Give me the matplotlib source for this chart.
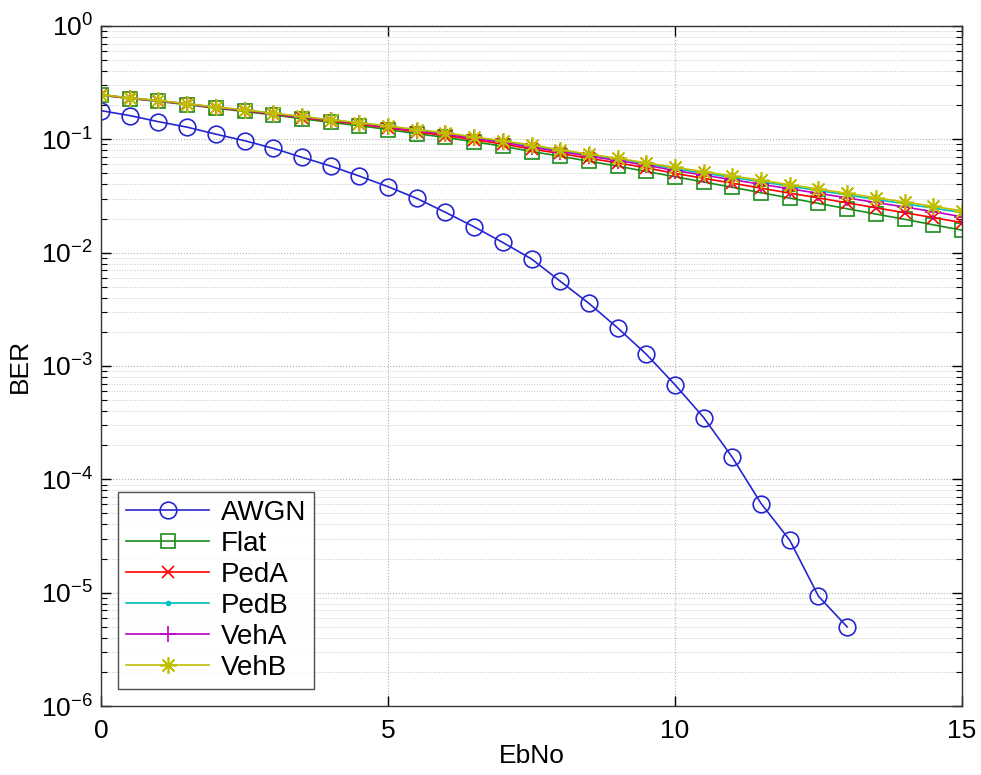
import numpy as np
import matplotlib
matplotlib.use('Agg')
import matplotlib.pyplot as plt
from matplotlib.ticker import LogLocator, NullFormatter

plt.rcParams['font.family'] = ['Liberation Sans', 'DejaVu Sans']
plt.rcParams['mathtext.fontset'] = 'custom'
plt.rcParams['mathtext.rm'] = 'Liberation Sans'
plt.rcParams['mathtext.it'] = 'Liberation Sans'

# Eb/No points (dB)
ebno = np.arange(0, 15.5, 0.5)

ber_awgn = [0.179, 0.162, 0.143, 0.128, 0.111, 0.0972, 0.0833, 0.0694, 0.0581, 0.0474,
            0.0382, 0.0301, 0.0227, 0.0169, 0.0123, 0.0088, 0.0056, 0.00357, 0.00217,
            0.00127, 0.000683, 0.000351, 0.000156, 6.12e-5, 2.9e-5, 9.3e-6, 4.99e-6]
ber_flat = [0.245, 0.229, 0.216, 0.202, 0.188, 0.176, 0.164, 0.152, 0.141, 0.132, 0.122,
            0.112, 0.104, 0.095, 0.087, 0.078, 0.071, 0.064, 0.058, 0.052, 0.0468,
            0.0420, 0.0377, 0.0338, 0.0303, 0.0272, 0.0244, 0.0219, 0.0197, 0.0176, 0.0158]
ber_peda = [0.246, 0.230, 0.218, 0.204, 0.190, 0.179, 0.167, 0.155, 0.145, 0.136, 0.126,
            0.116, 0.108, 0.099, 0.091, 0.082, 0.075, 0.068, 0.062, 0.056, 0.050,
            0.0453, 0.0410, 0.0371, 0.0335, 0.0304, 0.0275, 0.0249, 0.0225, 0.0204, 0.0184]
ber_pedb = [0.247, 0.231, 0.219, 0.205, 0.192, 0.181, 0.169, 0.158, 0.148, 0.139, 0.130,
            0.121, 0.113, 0.104, 0.096, 0.088, 0.080, 0.073, 0.067, 0.061, 0.055,
            0.0503, 0.0461, 0.0422, 0.0386, 0.0353, 0.0323, 0.0295, 0.0270, 0.0247, 0.0226]
ber_veha = [0.247, 0.231, 0.219, 0.205, 0.191, 0.180, 0.168, 0.157, 0.147, 0.138, 0.128,
            0.119, 0.111, 0.102, 0.094, 0.085, 0.078, 0.071, 0.065, 0.059, 0.053,
            0.0483, 0.0440, 0.0401, 0.0366, 0.0334, 0.0304, 0.0277, 0.0253, 0.0230, 0.0207]
ber_vehb = [0.248, 0.232, 0.220, 0.206, 0.193, 0.182, 0.170, 0.159, 0.149, 0.140, 0.131,
            0.122, 0.114, 0.105, 0.097, 0.089, 0.081, 0.074, 0.068, 0.062, 0.0566,
            0.0518, 0.0475, 0.0435, 0.0398, 0.0364, 0.0334, 0.0305, 0.0280, 0.0256, 0.0234]

labels = ['AWGN', 'Flat', 'PedA', 'PedB', 'VehA', 'VehB']

fig = plt.figure(figsize=(9.81, 7.75), dpi=100)
ax = fig.add_axes([0.103, 0.089, 0.8776, 0.8775])

ax.semilogy(ebno[:len(ber_awgn)], ber_awgn, ls='-', marker='o', color=(0.15, 0.15, 0.82),
            lw=1.2, ms=12, mfc='none', mew=1.2, label=labels[0])
ax.semilogy(ebno, ber_flat, ls='-', marker='s', color=(0.1, 0.55, 0.1), lw=1.2, ms=10,
            mfc='none', mew=1.2, label=labels[1])
ax.semilogy(ebno, ber_peda, ls='-', marker='x', color=(1, 0, 0), lw=1.2, ms=9, mew=1.2,
            label=labels[2])
ax.semilogy(ebno, ber_pedb, ls='-', marker='.', color=(0, 0.75, 0.75), lw=1.2, ms=6,
            label=labels[3])
ax.semilogy(ebno, ber_veha, ls='-', marker='+', color=(0.75, 0, 0.75), lw=1.2, ms=11,
            mew=1.2, label=labels[4])
ax.semilogy(ebno, ber_vehb, ls='-', marker=(8, 2, 0), color=(0.75, 0.75, 0), lw=1.2, ms=12,
            mew=1.2, label=labels[5])

ax.set_xlim(0, 15)
ax.set_ylim(1e-6, 1e0)
ax.set_xticks([0, 5, 10, 15])
ax.yaxis.set_major_locator(LogLocator(base=10, numticks=10))
ax.yaxis.set_minor_locator(LogLocator(base=10, subs=np.arange(2, 10), numticks=100))
ax.yaxis.set_minor_formatter(NullFormatter())

ax.grid(True, which='major', linestyle=':', color='#b0b0b0', lw=0.8)
ax.grid(True, which='minor', axis='y', linestyle=':', color='#c8c8c8', lw=0.7)
ax.tick_params(which='both', direction='in', top=True, right=True, labelsize=19)
ax.tick_params(axis='x', pad=9)
ax.tick_params(axis='y', pad=6)
ax.tick_params(which='major', length=7, width=1)
ax.tick_params(which='minor', length=4, width=0.8)
for s in ax.spines.values():
    s.set_linewidth(1.0)
    s.set_color('#333333')

ax.set_xlabel('EbNo', fontsize=19, labelpad=1)
ax.set_ylabel('BER', fontsize=19, labelpad=6)

leg = ax.legend(loc='lower left', fontsize=20, frameon=True, fancybox=False,
                edgecolor='#222222', handlelength=3.0, borderaxespad=0.6,
                labelspacing=0.18, handletextpad=0.4, borderpad=0.3)
leg.get_frame().set_linewidth(1.0)

fig.savefig('out.png', dpi=100)
